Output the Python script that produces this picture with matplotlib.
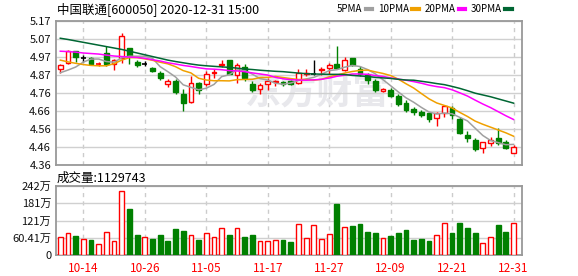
import numpy as np
import matplotlib.pyplot as plt
from matplotlib.lines import Line2D

plt.rcParams['font.family'] = ['Noto Sans CJK SC', 'DejaVu Sans']

dates = ['10-09', '10-12', '10-13', '10-14', '10-15', '10-16', '10-19', '10-20', '10-21', '10-22',
         '10-23', '10-26', '10-27', '10-28', '10-29', '10-30', '11-02', '11-03', '11-04', '11-05',
         '11-06', '11-09', '11-10', '11-11', '11-12', '11-13', '11-16', '11-17', '11-18', '11-19',
         '11-20', '11-23', '11-24', '11-25', '11-26', '11-27', '11-30', '12-01', '12-02', '12-03',
         '12-04', '12-07', '12-08', '12-09', '12-10', '12-11', '12-14', '12-15', '12-16', '12-17',
         '12-18', '12-21', '12-22', '12-23', '12-24', '12-25', '12-28', '12-29', '12-30', '12-31']

opens = [4.902, 4.932, 5.001, 4.96, 4.964, 4.928, 4.99, 4.926, 4.96, 5.016,
         4.941, 4.926, 4.904, 4.879, 4.814, 4.833, 4.758, 4.714, 4.821, 4.814,
         4.876, 4.922, 4.949, 4.866, 4.911, 4.814, 4.789, 4.814, 4.826, 4.825,
         4.833, 4.823, 4.874, 4.874, 4.893, 4.904, 4.93, 4.893, 4.96, 4.898,
         4.866, 4.833, 4.776, 4.78, 4.748, 4.71, 4.673, 4.66, 4.654, 4.622,
         4.654, 4.679, 4.617, 4.529, 4.5, 4.454, 4.482, 4.51, 4.491, 4.429]
closes = [4.924, 4.999, 4.969, 4.96, 4.926, 4.928, 4.926, 4.949, 5.088, 4.971,
          4.924, 4.926, 4.891, 4.851, 4.833, 4.773, 4.71, 4.819, 4.782, 4.874,
          4.881, 4.93, 4.874, 4.92, 4.848, 4.782, 4.808, 4.833, 4.83, 4.817,
          4.817, 4.879, 4.879, 4.874, 4.9, 4.923, 4.904, 4.949, 4.923, 4.874,
          4.836, 4.782, 4.788, 4.748, 4.701, 4.669, 4.66, 4.641, 4.617, 4.65,
          4.692, 4.641, 4.542, 4.514, 4.448, 4.487, 4.5, 4.482, 4.454, 4.459]
highs = [4.93, 5.005, 5.001, 4.981, 4.969, 4.939, 5.027, 4.958, 5.1, 5.016,
         4.949, 4.943, 4.911, 4.889, 4.844, 4.842, 4.786, 4.86, 4.829, 4.889,
         4.898, 4.949, 4.952, 4.936, 4.93, 4.833, 4.823, 4.848, 4.84, 4.833,
         4.84, 4.898, 4.898, 4.949, 4.911, 4.932, 5.029, 4.968, 4.964, 4.917,
         4.879, 4.842, 4.795, 4.795, 4.758, 4.726, 4.684, 4.669, 4.66, 4.66,
         4.697, 4.692, 4.632, 4.553, 4.51, 4.491, 4.516, 4.566, 4.5, 4.472]
lows = [4.876, 4.926, 4.941, 4.937, 4.922, 4.919, 4.917, 4.892, 4.936, 4.926,
        4.913, 4.915, 4.883, 4.836, 4.801, 4.761, 4.664, 4.71, 4.761, 4.804,
        4.851, 4.911, 4.87, 4.823, 4.833, 4.773, 4.761, 4.782, 4.804, 4.804,
        4.81, 4.814, 4.86, 4.866, 4.866, 4.874, 4.898, 4.889, 4.917, 4.86,
        4.814, 4.773, 4.772, 4.743, 4.692, 4.66, 4.64, 4.632, 4.604, 4.579,
        4.632, 4.617, 4.534, 4.49, 4.441, 4.429, 4.467, 4.472, 4.448, 4.426]
# r = up, g = down, k = flat
candle_dir = list('rrgkgrgrrggkggrggrgrrrgrggrrrggrrkrrgrggggrggggggrrggggrrggr')

ma5 = [4.879, 4.894, 4.911, 4.939, 4.956, 4.956, 4.942, 4.938, 4.963, 4.972,
       4.972, 4.972, 4.960, 4.913, 4.885, 4.855, 4.811, 4.797, 4.783, 4.792,
       4.813, 4.857, 4.868, 4.896, 4.891, 4.871, 4.846, 4.838, 4.820, 4.814,
       4.821, 4.835, 4.844, 4.853, 4.870, 4.891, 4.896, 4.910, 4.920, 4.914,
       4.897, 4.873, 4.840, 4.806, 4.771, 4.738, 4.713, 4.684, 4.658, 4.647,
       4.652, 4.648, 4.628, 4.608, 4.567, 4.526, 4.498, 4.486, 4.474, 4.476]
ma10 = [4.95, 4.94, 4.932, 4.925, 4.92, 4.918, 4.918, 4.93, 4.95, 4.964,
        4.964, 4.957, 4.949, 4.938, 4.929, 4.913, 4.891, 4.878, 4.848, 4.838,
        4.834, 4.834, 4.833, 4.840, 4.841, 4.842, 4.852, 4.853, 4.858, 4.852,
        4.846, 4.841, 4.841, 4.837, 4.842, 4.856, 4.866, 4.877, 4.886, 4.892,
        4.894, 4.884, 4.875, 4.863, 4.843, 4.817, 4.793, 4.762, 4.732, 4.709,
        4.695, 4.681, 4.656, 4.633, 4.607, 4.589, 4.573, 4.557, 4.541, 4.522]
ma20 = [5.0, 4.998, 4.995, 4.99, 4.987, 4.984, 4.978, 4.973, 4.97, 4.967,
        4.965, 4.96, 4.952, 4.945, 4.935, 4.928, 4.92, 4.914, 4.907, 4.901,
        4.899, 4.896, 4.891, 4.889, 4.885, 4.878, 4.872, 4.866, 4.853, 4.845,
        4.84, 4.838, 4.837, 4.839, 4.842, 4.849, 4.859, 4.865, 4.872, 4.872,
        4.87, 4.863, 4.858, 4.85, 4.843, 4.837, 4.829, 4.82, 4.809, 4.801,
        4.795, 4.783, 4.766, 4.748, 4.725, 4.703, 4.683, 4.66, 4.637, 4.616]
ma30 = [5.073, 5.066, 5.058, 5.05, 5.042, 5.034, 5.026, 5.018, 5.01, 5.0,
        4.99, 4.98, 4.97, 4.96, 4.95, 4.942, 4.935, 4.928, 4.922, 4.918,
        4.915, 4.912, 4.909, 4.905, 4.9, 4.897, 4.893, 4.89, 4.887, 4.885,
        4.881, 4.877, 4.874, 4.872, 4.871, 4.87, 4.87, 4.869, 4.864, 4.861,
        4.858, 4.853, 4.85, 4.847, 4.842, 4.838, 4.837, 4.831, 4.825, 4.818,
        4.812, 4.802, 4.791, 4.778, 4.764, 4.754, 4.744, 4.732, 4.72, 4.708]

# volume in 万
volume = [62, 77, 67, 55, 53, 39, 79, 49, 223, 161,
          70, 62, 56, 70, 50, 91, 84, 70, 54, 77,
          62, 94, 70, 94, 63, 70, 49, 49, 53, 53,
          47, 109, 58, 104, 55, 72, 179, 97, 102, 109,
          81, 77, 58, 67, 77, 88, 53, 56, 49, 69,
          111, 77, 112, 95, 77, 41, 62, 105, 81, 112.97]
vol_dir = list('rrgrgrrrrggrgggggrgrrrgrggrrrggrrrrrgrgggg' + 'rggggggrrggggrrggr')

price_ticks = [4.36, 4.46125, 4.5625, 4.66375, 4.765, 4.86625, 4.9675, 5.06875, 5.17]
price_labels = ['4.36', '4.46', '4.56', '4.66', '4.76', '4.87', '4.97', '5.07', '5.17']
vol_ticks = [0, 60.41, 120.82, 181.23, 241.64]
vol_labels = ['0', '60.41万', '121万', '181万', '242万']
date_ticks = ['10-14', '10-26', '11-05', '11-17', '11-27', '12-09', '12-21', '12-31']

ma_names = ['5PMA', '10PMA', '20PMA', '30PMA']
ma_colors = ['#a0a0a0', '#f0a000', '#ff00ff', '#006633']
cmap = {'r': '#ff0000', 'g': '#008000', 'k': '#000000'}

x = np.arange(len(dates))
tick_pos = [dates.index(d) for d in date_ticks]

fig = plt.figure(figsize=(5.78, 2.76), dpi=100)
ax1 = fig.add_axes([56 / 578, 1 - 165 / 276, 466 / 578, 144 / 276])
ax2 = fig.add_axes([56 / 578, 1 - 255 / 276, 466 / 578, 69 / 276])

for ax in (ax1, ax2):
    ax.set_xlim(-0.56, 60.1)
    for s in ax.spines.values():
        s.set_color('#999999')
        s.set_linewidth(1.3)
    ax.tick_params(length=0, labelsize=8, colors='#111111')
    for t in tick_pos:
        ax.axvline(t, color='#cccccc', lw=1, ls=(0, (3, 3)), zorder=0)
    ax.set_xticks(tick_pos)

# watermark
ax1.text(0.56, 0.5, '东方财富', transform=ax1.transAxes, fontsize=26, fontweight='bold',
         color='#e8e8ec', ha='center', va='center', zorder=0)

# candles
for i in x:
    c = cmap[candle_dir[i]]
    ax1.vlines(i, lows[i], highs[i], color=c, lw=1, zorder=2)
    lo, hi = min(opens[i], closes[i]), max(opens[i], closes[i])
    if hi - lo < 0.002:
        ax1.hlines(opens[i], i - 0.33, i + 0.33, color=c, lw=1.2, zorder=3)
    else:
        fc = 'white' if candle_dir[i] == 'r' else c
        ax1.bar(i, hi - lo, bottom=lo, width=0.62, facecolor=fc, edgecolor=c, lw=1, zorder=3)

for vals, col in zip([ma5, ma10, ma20, ma30], ma_colors):
    ax1.plot(x, vals, color=col, lw=1.1, zorder=4)

ax1.set_ylim(4.36, 5.17)
ax1.set_yticks(price_ticks)
ax1.set_yticklabels(price_labels)
ax1.grid(axis='y', color='#d0d0d0', lw=1)
ax1.set_axisbelow(True)
ax1.set_xticklabels([])

# volume
for i in x:
    c = cmap[vol_dir[i]]
    fc = 'white' if vol_dir[i] == 'r' else c
    ax2.bar(i, volume[i], width=0.62, facecolor=fc, edgecolor=c, lw=1, zorder=3)
ax2.set_ylim(0, 241.64)
ax2.set_yticks(vol_ticks)
ax2.set_yticklabels(vol_labels)
ax2.grid(axis='y', color='#d0d0d0', lw=1)
ax2.set_axisbelow(True)
ax2.set_xticklabels(date_ticks, color='#ff0000', fontsize=8.5)
ax2.tick_params(axis='x', pad=5)

fig.text(57 / 578, 1 - 9 / 276, '中国联通[600050] 2020-12-31 15:00', fontsize=9, va='center', ha='left')
fig.text(57 / 578, 1 - 178 / 276, '成交量:1129743', fontsize=9, va='center', ha='left')

handles = [Line2D([], [], color=c, lw=3) for c in ma_colors]
fig.legend(handles, ma_names, loc='center right', bbox_to_anchor=(512 / 578, 1 - 9 / 276),
           ncol=4, frameon=False, fontsize=7, markerfirst=False, handlelength=0.7,
           handletextpad=0.35, columnspacing=0.55, borderpad=0, borderaxespad=0)

fig.savefig('out.png', dpi=100)
